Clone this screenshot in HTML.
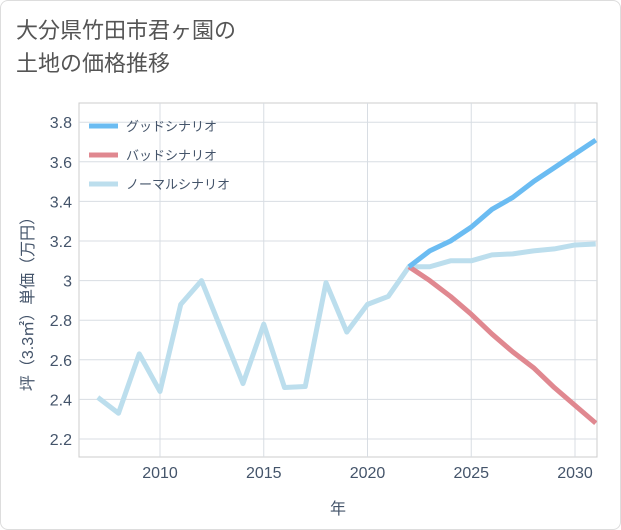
<!DOCTYPE html>
<html><head><meta charset="utf-8"><style>
body{margin:0;background:#fff;font-family:"Liberation Sans","Noto Sans CJK JP",sans-serif;}
.card{position:absolute;left:0;top:0;width:619px;height:528px;border:1px solid #ddd;border-radius:8px;background:#fff;}
.title{position:absolute;left:16px;top:14px;font-size:22px;line-height:33px;color:#555;}
svg{position:absolute;left:0;top:0;}
</style></head><body>
<div class="card"></div>
<div class="title">大分県竹田市君ヶ園の<br>土地の価格推移</div>
<svg id="chart" width="621" height="530"></svg>
<script>
const normalYears=[2007,2008,2009,2010,2011,2012,2013,2014,2015,2016,2017,2018,2019,2020,2021,2022,2023,2024,2025,2026,2027,2028,2029,2030,2031];
const normalVals=[2.41,2.33,2.63,2.44,2.88,3.00,2.74,2.48,2.78,2.46,2.465,2.99,2.74,2.88,2.92,3.07,3.07,3.10,3.10,3.13,3.135,3.15,3.16,3.18,3.185];
const futureYears=[2022,2023,2024,2025,2026,2027,2028,2029,2030,2031];
const goodVals=[3.07,3.15,3.20,3.27,3.36,3.42,3.50,3.57,3.64,3.71];
const badVals=[3.07,3.00,2.92,2.83,2.73,2.64,2.56,2.46,2.37,2.28];
const xTicks=[2010,2015,2020,2025,2030];
const yTicks=[2.2,2.4,2.6,2.8,3.0,3.2,3.4,3.6,3.8];
const yTickLabels=["2.2","2.4","2.6","2.8","3","3.2","3.4","3.6","3.8"];
const legendLabels=["グッドシナリオ","バッドシナリオ","ノーマルシナリオ"];
const legendColors=["#6bbcf2","#e08890","#bcdeed"];

const L=79,R=597,T=103,B=457;
const TXT='#44546a';
const x=y=>160+(y-2010)*20.75;
const yv=v=>439-(v-2.2)/0.2*39.6;
const svg=document.getElementById('chart');
const NS='http://www.w3.org/2000/svg';
function mk(tag,attrs,parent){const e=document.createElementNS(NS,tag);for(const k in attrs)e.setAttribute(k,attrs[k]);(parent||svg).appendChild(e);return e;}

const frame=mk('rect',{x:L,y:T,width:R-L,height:B-T,fill:'none',stroke:'#ccc'});


xTicks.forEach(t=>{
  const g=mk('line',{x1:x(t),x2:x(t),y1:T,y2:B,stroke:'#d8dde3'});
  
  
  const tx=mk('text',{x:x(t),y:478,'text-anchor':'middle','font-size':16,fill:TXT});
  tx.textContent=t;
  
  
});
yTicks.forEach((t,i)=>{
  const g=mk('line',{x1:L,x2:R,y1:yv(t),y2:yv(t),stroke:'#d8dde3'});
  
  
  const tx=mk('text',{x:72,y:yv(t)+6,'text-anchor':'end','font-size':16,fill:TXT});
  tx.textContent=yTickLabels[i];
  
  
});
const xt=mk('text',{x:338,y:514,'text-anchor':'middle','font-size':16,fill:TXT});
xt.textContent='年';


const yt=mk('text',{x:0,y:0,'text-anchor':'middle','font-size':16,fill:TXT,transform:'translate(33,300) rotate(-90)'});
yt.textContent='坪（3.3㎡）単価（万円）';



const clip=mk('clipPath',{id:'c'});mk('rect',{x:L,y:T,width:R-L,height:B-T},clip);
function series(xs,vs,color,name){
  const d=xs.map((yr,i)=>(i?'L':'M')+x(yr)+','+yv(vs[i])).join(' ');
  const p=mk('path',{d:d,fill:'none',stroke:color,'stroke-width':5,'stroke-linejoin':'round','clip-path':'url(#c)'});
  
  
}
series(normalYears,normalVals,legendColors[2],'normal-scenario-line');
series(futureYears,badVals,legendColors[1],'bad-scenario-line');
series(futureYears,goodVals,legendColors[0],'good-scenario-line');

legendLabels.forEach((lab,i)=>{
  const yy=126+i*29;
  const l=mk('line',{x1:89,x2:118,y1:yy,y2:yy,stroke:legendColors[i],'stroke-width':5});
  
  
  const t=mk('text',{x:126,y:yy+5,'font-size':13,fill:TXT});
  t.textContent=lab;
  
  
});
</script>
</body></html>
